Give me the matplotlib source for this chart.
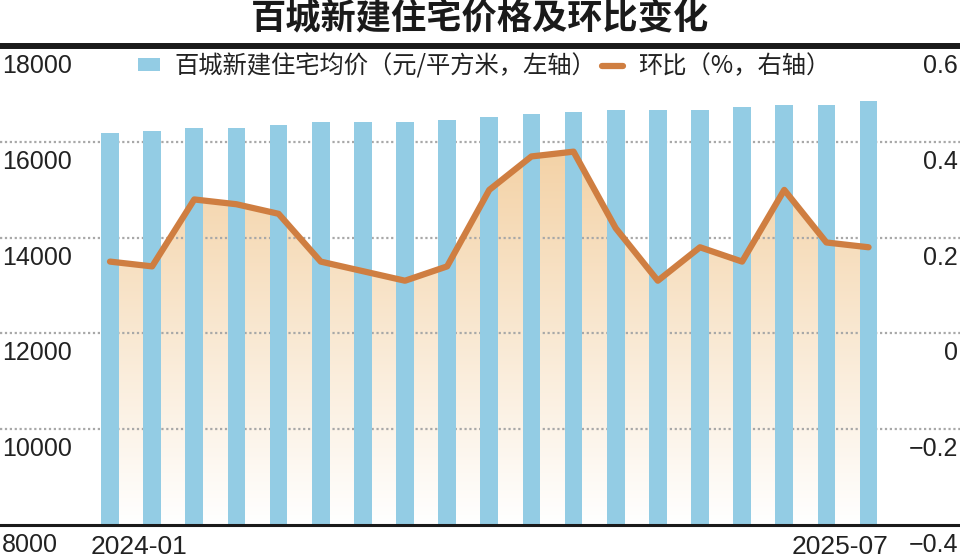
import numpy as np
import matplotlib.pyplot as plt
from matplotlib.transforms import offset_copy

plt.rcParams['font.family'] = ['Noto Sans CJK SC', 'DejaVu Sans']

# 月份（只标首尾）
months = ['2024-01', '2024-02', '2024-03', '2024-04', '2024-05', '2024-06',
          '2024-07', '2024-08', '2024-09', '2024-10', '2024-11', '2024-12',
          '2025-01', '2025-02', '2025-03', '2025-04', '2025-05', '2025-06',
          '2025-07']
# 百城新建住宅均价（元/平方米）
price = [16180, 16230, 16290, 16290, 16350, 16420, 16420, 16420, 16460, 16520,
         16580, 16620, 16670, 16670, 16670, 16730, 16770, 16770, 16850]
# 环比（%）
mom = [0.15, 0.14, 0.28, 0.27, 0.25, 0.15, 0.13, 0.11, 0.14, 0.30,
       0.37, 0.38, 0.22, 0.11, 0.18, 0.15, 0.30, 0.19, 0.18]

left_ticks = [8000, 10000, 12000, 14000, 16000, 18000]
right_ticks = [-0.4, -0.2, 0, 0.2, 0.4, 0.6]
right_labels = ['\u22120.4', '\u22120.2', '0', '0.2', '0.4', '0.6']

title = '百城新建住宅价格及环比变化'
label_price = '百城新建住宅均价（元/平方米，左轴）'
label_mom = '环比（%，右轴）'

bar_color = '#93cce4'
line_color = '#cf7e41'
text_color = '#222222'
num_font = ['Liberation Sans', 'DejaVu Sans']

fig = plt.figure(figsize=(9.6, 5.57), dpi=100)
ax_fill = fig.add_axes([0, 32.5 / 557, 1, 478 / 557])
ax_bar = ax_fill.twinx()
ax_line = ax_fill.twinx()

ax_fill.set_zorder(1)
ax_bar.set_zorder(2)
ax_line.set_zorder(3)
for a in (ax_bar, ax_line):
    a.patch.set_visible(False)

x = np.arange(len(months))

for a in (ax_fill, ax_bar, ax_line):
    a.set_xticks([])
    a.set_yticks([])
    for s in a.spines.values():
        s.set_visible(False)

# 渐变填充
poly = ax_fill.fill_between(x, mom, right_ticks[0], facecolor='none', edgecolor='none')
top_c = np.array([243, 208, 162]) / 255
t = np.linspace(0, 1, 256).reshape(-1, 1)
grad = (1 - t)[..., None] * np.ones(3) + t[..., None] * top_c
img = ax_fill.imshow(grad, extent=[x[0], x[-1], right_ticks[0], 0.42], origin='lower',
                     aspect='auto', zorder=1, interpolation='bilinear')
img.set_clip_path(poly.get_paths()[0], transform=ax_fill.transData)

ax_fill.set_xlim(-2.61, 20.17)
ax_fill.set_ylim(right_ticks[0], right_ticks[-1])
ax_line.set_ylim(right_ticks[0], right_ticks[-1])
ax_bar.set_ylim(left_ticks[0], left_ticks[-1])

# 网格线
for v in right_ticks[1:-1]:
    ax_fill.axhline(v, color='#a8a8a8', lw=1.6, ls=(0, (1.0, 1.2)), zorder=2)

bars = ax_bar.bar(x, price, width=0.42, color=bar_color, zorder=2, label=label_price)
line, = ax_line.plot(x, mom, color=line_color, lw=4.5, solid_joinstyle='round',
                     solid_capstyle='round', label=label_mom)

ax_line.spines['top'].set_visible(True)
ax_line.spines['top'].set_linewidth(4.3)
ax_line.spines['top'].set_color('#1a1a1a')
ax_line.spines['bottom'].set_visible(True)
ax_line.spines['bottom'].set_linewidth(2.2)
ax_line.spines['bottom'].set_color('#1a1a1a')

# 刻度标签
tr_l = offset_copy(ax_bar.get_yaxis_transform(), fig=fig, x=0, y=-8, units='dots')
for v in left_ticks:
    ax_bar.text(2 / 960, v, str(v), transform=tr_l, ha='left', va='top',
                fontsize=18, color=text_color, family=num_font)
tr_r = offset_copy(ax_line.get_yaxis_transform(), fig=fig, x=0, y=-8, units='dots')
for v, lab in zip(right_ticks, right_labels):
    ax_line.text(958 / 960, v, lab, transform=tr_r, ha='right', va='top',
                 fontsize=18, color=text_color, family=num_font)

tr_x = offset_copy(ax_bar.get_xaxis_transform(), fig=fig, x=0, y=-10, units='dots')
ax_bar.text(x[0] - 0.47, 0, months[0], transform=tr_x, ha='left', va='top',
            fontsize=19, color=text_color, family=num_font)
ax_bar.text(x[-1] + 0.47, 0, months[-1], transform=tr_x, ha='right', va='top',
            fontsize=19, color=text_color, family=num_font)

fig.text(0.5, 1 - 19 / 557, title, ha='center', va='center', fontsize=25.4,
         fontweight='heavy', color='#1a1a1a')

ax_line.legend(handles=[bars, line], labels=[label_price, label_mom], ncol=2,
               loc='center left', bbox_to_anchor=(138 / 960, 1 - 66.5 / 557),
               bbox_transform=fig.transFigure, frameon=False, borderpad=0,
               borderaxespad=0, handlelength=0.9, handleheight=0.45,
               handletextpad=0.62, columnspacing=0.2, fontsize=17.5,
               labelcolor=text_color)

fig.savefig('out.png', dpi=100)
